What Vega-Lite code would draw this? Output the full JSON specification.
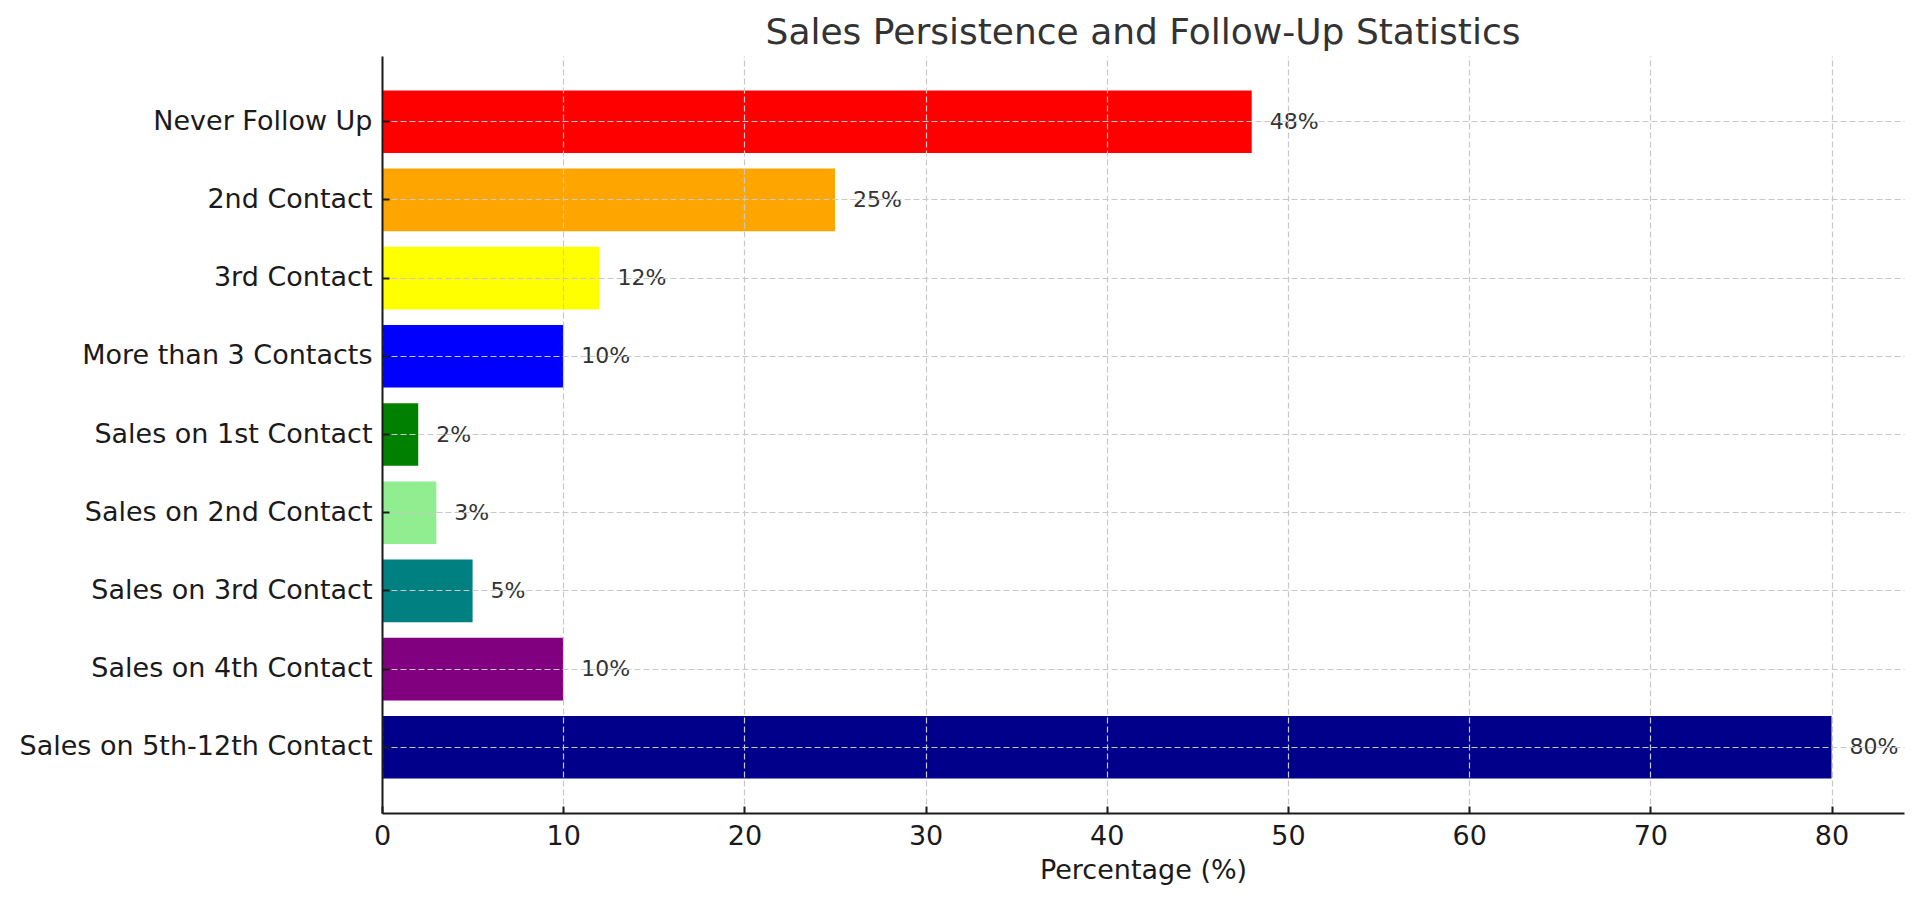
{
  "$schema": "https://vega.github.io/schema/vega-lite/v6.json",
  "autosize": "none",
  "width": 1522,
  "height": 757,
  "padding": {"left": 382, "top": 56, "right": 16, "bottom": 88},
  "background": "white",
  "config": {
    "font": "DejaVu Sans",
    "view": {"stroke": null}
  },
  "title": {
    "text": "Sales Persistence and Follow-Up Statistics",
    "font": "DejaVu Sans",
    "fontSize": 36,
    "fontWeight": "normal",
    "color": "#333333",
    "anchor": "middle",
    "offset": 4
  },
  "data": {
    "values": [
      {"category": "Never Follow Up", "value": 48, "label": "48%", "color": "#FF0000"},
      {"category": "2nd Contact", "value": 25, "label": "25%", "color": "#FFA500"},
      {"category": "3rd Contact", "value": 12, "label": "12%", "color": "#FFFF00"},
      {"category": "More than 3 Contacts", "value": 10, "label": "10%", "color": "#0000FF"},
      {"category": "Sales on 1st Contact", "value": 2, "label": "2%", "color": "#008000"},
      {"category": "Sales on 2nd Contact", "value": 3, "label": "3%", "color": "#90EE90"},
      {"category": "Sales on 3rd Contact", "value": 5, "label": "5%", "color": "#008080"},
      {"category": "Sales on 4th Contact", "value": 10, "label": "10%", "color": "#800080"},
      {"category": "Sales on 5th-12th Contact", "value": 80, "label": "80%", "color": "#00008B"}
    ]
  },
  "encoding": {
    "y": {
      "field": "category",
      "type": "nominal",
      "sort": null,
      "scale": {"paddingInner": 0.2, "paddingOuter": 0.44},
      "axis": {
        "title": null,
        "zindex": 1,
        "domainColor": "#1a1a1a",
        "domainWidth": 2,
        "tickColor": "#1a1a1a",
        "tickWidth": 2,
        "tickSize": -7,
        "labelPadding": 17,
        "labelFont": "DejaVu Sans",
        "labelFontSize": 27,
        "labelColor": "#1a1a1a",
        "labelLimit": 0,
        "grid": true,
        "gridColor": "#c8c8c8",
        "gridDash": [6, 3],
        "gridWidth": 1.2
      }
    }
  },
  "layer": [
    {
      "mark": {"type": "bar"},
      "encoding": {
        "x": {
          "field": "value",
          "type": "quantitative",
          "scale": {"domain": [0, 84], "nice": false, "zero": true},
          "axis": {
            "title": "Percentage (%)",
            "titleFont": "DejaVu Sans",
            "titleFontSize": 27,
            "titleFontWeight": "normal",
            "titleColor": "#1a1a1a",
            "titlePadding": 8,
            "values": [0, 10, 20, 30, 40, 50, 60, 70, 80],
            "labelFlush": false,
            "zindex": 1,
            "domainColor": "#1a1a1a",
            "domainWidth": 2,
            "tickColor": "#1a1a1a",
            "tickWidth": 2,
            "tickSize": -7,
            "labelPadding": 17,
            "labelFont": "DejaVu Sans",
            "labelFontSize": 27,
            "labelColor": "#1a1a1a",
            "grid": true,
            "gridColor": "#c8c8c8",
            "gridDash": [6, 3],
            "gridWidth": 1.2
          }
        },
        "color": {"field": "color", "type": "nominal", "scale": null, "legend": null}
      }
    },
    {
      "mark": {"type": "text", "align": "left", "baseline": "middle", "dx": 18, "fontSize": 22, "color": "#333333", "font": "DejaVu Sans"},
      "encoding": {
        "x": {"field": "value", "type": "quantitative"},
        "text": {"field": "label"}
      }
    }
  ]
}
